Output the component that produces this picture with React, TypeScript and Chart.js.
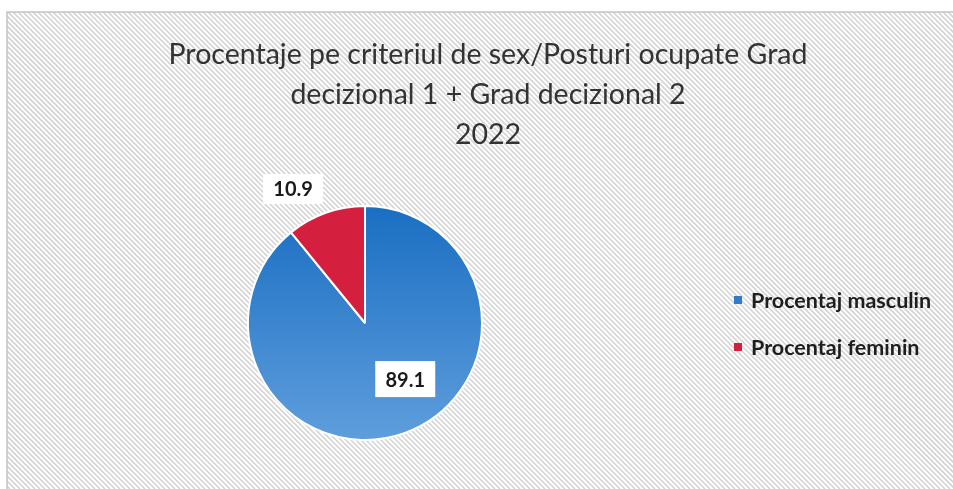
import React, { useEffect, useRef } from "react";
import { Chart, registerables } from "chart.js";

Chart.register(...registerables);

const titleLines = [
  "Procentaje pe criteriul de sex/Posturi ocupate Grad",
  "decizional 1 + Grad decizional 2",
  "2022",
];
const categories = ["Procentaj masculin", "Procentaj feminin"];
const values = [89.1, 10.9];
const colors = ["#2f7dc9", "#d41f3e"];

const FONT = "Lato, 'Open Sans', sans-serif";

const backgroundPlugin = {
  id: "bgHatch",
  beforeDraw(chart: any) {
    const ctx = chart.ctx as CanvasRenderingContext2D;
    const w = chart.width, h = chart.height;
    ctx.save();
    ctx.fillStyle = "#ffffff";
    ctx.fillRect(0, 0, w, h);
    const bx = 7, by = 12;
    ctx.beginPath();
    ctx.rect(bx, by, w - bx + 10, h - by + 10);
    ctx.clip();
    ctx.strokeStyle = "#d4d4d4";
    ctx.lineWidth = 1.6;
    const step = 5;
    for (let x = -h; x < w + h; x += step) {
      ctx.beginPath();
      ctx.moveTo(x, 0);
      ctx.lineTo(x + h, h);
      ctx.stroke();
    }
    ctx.restore();
    ctx.save();
    ctx.strokeStyle = "#c4c4c4";
    ctx.lineWidth = 1.5;
    ctx.beginPath();
    ctx.moveTo(bx, h + 5);
    ctx.lineTo(bx, by);
    ctx.lineTo(w + 5, by);
    ctx.stroke();
    ctx.restore();
  },
};

const overlayPlugin = {
  id: "overlay",
  afterDraw(chart: any) {
    const ctx = chart.ctx as CanvasRenderingContext2D;
    ctx.save();
    // title
    ctx.fillStyle = "#333333";
    ctx.font = `28.5px ${FONT}`;
    ctx.textAlign = "center";
    ctx.textBaseline = "middle";
    titleLines.forEach((t, i) => ctx.fillText(t, 488, 55 + i * 40));

    // legend
    const labels = chart.data.labels as string[];
    const ds = chart.data.datasets[0];
    ctx.font = `bold 21.5px ${FONT}`;
    ctx.textAlign = "left";
    labels.forEach((l, i) => {
      const y = 300 + i * 47;
      ctx.fillStyle = ds.legendColors[i];
      ctx.fillRect(734, y - 4, 8, 8);
      ctx.fillStyle = "#1e1e1e";
      ctx.fillText(l, 751, y + 1);
    });

    // data labels
    const meta = chart.getDatasetMeta(0);
    ctx.font = `bold 20px ${FONT}`;
    ctx.textAlign = "center";
    meta.data.forEach((arc: any, i: number) => {
      const p = arc.getProps(["x", "y", "startAngle", "endAngle", "outerRadius"], true);
      const span = p.endAngle - p.startAngle;
      let ang: number, rad: number, bh: number;
      if (i === 0) {
        ang = p.startAngle + span * 0.45;
        rad = p.outerRadius * 0.59;
        bh = 36;
      } else {
        ang = p.startAngle + span * 0.5 - 0.15;
        rad = p.outerRadius * 1.3;
        bh = 30;
      }
      const cx = p.x + Math.cos(ang) * rad;
      const cy = p.y + Math.sin(ang) * rad;
      const txt = String(chart.data.datasets[0].data[i]);
      const bw = 60;
      ctx.fillStyle = "#ffffff";
      ctx.fillRect(cx - bw / 2, cy - bh / 2, bw, bh);
      ctx.fillStyle = "#1a1a1a";
      ctx.fillText(txt, cx, cy + 1);
    });
    ctx.restore();
  },
};

export default function App() {
  const ref = useRef<HTMLCanvasElement | null>(null);
  useEffect(() => {
    const canvas = ref.current!;
    const chart = new Chart(canvas, {
      type: "pie",
      data: {
        labels: categories,
        datasets: [
          {
            data: values,
            legendColors: colors,
            backgroundColor: (c: any) => {
              const ch = c.chart;
              if (c.dataIndex === 0) {
                const a = ch.chartArea;
                if (!a) return colors[0];
                const g = ch.ctx.createLinearGradient(0, a.top, 0, a.bottom);
                g.addColorStop(0, "#1a6ec2");
                g.addColorStop(1, "#5f9edc");
                return g;
              }
              return colors[1];
            },
            borderColor: "#ffffff",
            borderWidth: 2,
          } as any,
        ],
      },
      options: {
        animation: false,
        responsive: false,
        layout: { padding: { left: 247, right: 470, top: 205, bottom: 48 } },
        plugins: { legend: { display: false }, tooltip: { enabled: false }, title: { display: false } },
      },
      plugins: [backgroundPlugin, overlayPlugin],
    });
    return () => chart.destroy();
  }, []);
  return (
    <div style={{ position: "fixed", left: 0, top: 0, width: 953, height: 489 }}>
      <canvas ref={ref} width={953} height={489} style={{ width: 953, height: 489, display: "block" }} />
    </div>
  );
}
